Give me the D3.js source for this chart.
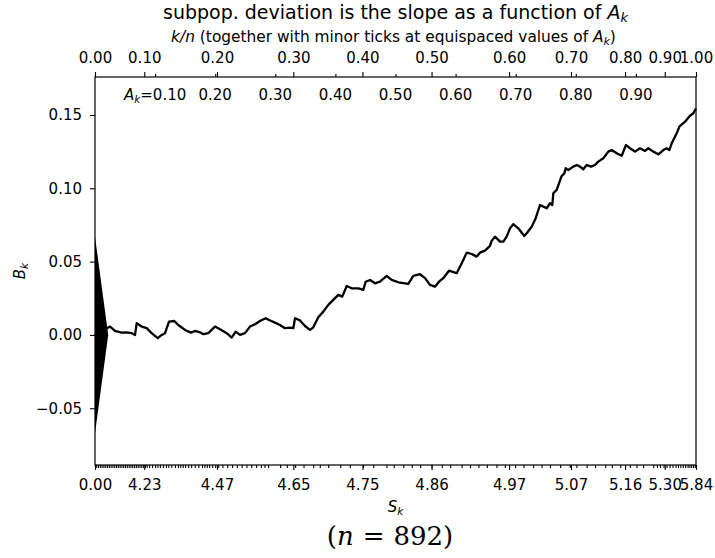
<!DOCTYPE html>
<html>
<head>
<meta charset="utf-8">
<script src="https://cdn.jsdelivr.net/npm/d3@7"></script>
<style>
  body { margin: 0; background: #fff; }
  text { font-family: "DejaVu Sans", sans-serif; }
</style>
</head>
<body>
<div id="main"></div>
<script>
/*********************************************************
 * Data
 *********************************************************/
// cumulative weight A_k (horizontal) and B_k (vertical)
const curveA = [0, 0.025, 0.0333, 0.0444, 0.0527, 0.0611, 0.0666, 0.0694, 0.0777, 0.086, 0.0943,
  0.1043, 0.111, 0.1165, 0.1231, 0.1319, 0.1386, 0.1498, 0.1597, 0.1664, 0.1747, 0.1802, 0.1885,
  0.1997, 0.208, 0.2191, 0.2275, 0.2341, 0.2413, 0.2496, 0.2579, 0.2662, 0.2745, 0.284, 0.2895,
  0.2995, 0.3078, 0.3161, 0.3245, 0.33, 0.3328, 0.3411, 0.3494, 0.3577, 0.3632, 0.3716, 0.3799,
  0.3882, 0.3965, 0.4048, 0.4115, 0.4188, 0.4271, 0.4381, 0.4464, 0.4504, 0.4576, 0.4659, 0.4742,
  0.4854, 0.4937, 0.5047, 0.5158, 0.5213, 0.5296, 0.5408, 0.5491, 0.5574, 0.5657, 0.5724, 0.5795,
  0.589, 0.6018, 0.6102, 0.6185, 0.6268, 0.6351, 0.6406, 0.6489, 0.6572, 0.6601, 0.6656, 0.6739,
  0.6794, 0.685, 0.6905, 0.696, 0.7043, 0.7143, 0.7183, 0.7266, 0.7333, 0.7404, 0.7459, 0.7516,
  0.7571, 0.7609, 0.7626, 0.7682, 0.7765, 0.7809, 0.7832, 0.7875, 0.7958, 0.8015, 0.807, 0.8125,
  0.8181, 0.8253, 0.8319, 0.8374, 0.8458, 0.8541, 0.8597, 0.8681, 0.8764, 0.8835, 0.8902, 0.8985,
  0.9068, 0.9151, 0.9206, 0.9289, 0.9374, 0.9456, 0.9512, 0.9556, 0.9596, 0.9679, 0.9722, 0.9817,
  0.99, 0.9955, 1.0];
const curveB = [0, 0.0057, 0.0027, 0.0016, 0.0018, 0.0012, 0.0, 0.008, 0.0057, 0.0046, 0.0012,
  -0.0022, 0.0, 0.0012, 0.0091, 0.0095, 0.0068, 0.0034, 0.0016, 0.0027, 0.0018, 0.0005, 0.0012,
  0.0057, 0.0039, 0.0012, -0.0018, 0.0022, 0.0, 0.0012, 0.0057, 0.0073, 0.0095, 0.0114, 0.0102,
  0.0084, 0.0068, 0.0046, 0.005, 0.0046, 0.0114, 0.0099, 0.0061, 0.0034, 0.0052, 0.0121, 0.0159,
  0.0205, 0.0239, 0.0273, 0.0261, 0.0334, 0.0318, 0.0318, 0.0307, 0.0363, 0.0375, 0.0352, 0.0363,
  0.0402, 0.0375, 0.0359, 0.0352, 0.0348, 0.0402, 0.0414, 0.0387, 0.0341, 0.0329, 0.0363, 0.0387,
  0.0438, 0.0421, 0.0489, 0.0561, 0.0552, 0.0534, 0.0561, 0.0575, 0.0607, 0.0643, 0.067, 0.0636,
  0.0636, 0.067, 0.0727, 0.0755, 0.0727, 0.0675, 0.0693, 0.0738, 0.0796, 0.0886, 0.0875, 0.0864,
  0.0898, 0.0886, 0.0966, 0.0989, 0.1084, 0.1102, 0.1137, 0.1125, 0.1148, 0.1159, 0.1148, 0.113,
  0.1159, 0.1148, 0.1159, 0.1182, 0.1205, 0.125, 0.1261, 0.1239, 0.1222, 0.1295, 0.1273, 0.125,
  0.1273, 0.1255, 0.1273, 0.125, 0.1232, 0.1261, 0.1273, 0.1261, 0.1307, 0.1375, 0.142, 0.1454,
  0.1495, 0.1512, 0.1545];

// triangle at the origin (A, B vertices)
const triangleA = [0, 0.022, 0];
const triangleB = [0.067, 0, -0.067];

// upper axis: k/n major ticks, placed at their A_k
const topTickA = [0, 0.082, 0.203, 0.33, 0.445, 0.56, 0.689, 0.792, 0.882, 0.948, 1.0];
const topTickLabels = ['0.00', '0.10', '0.20', '0.30', '0.40', '0.50', '0.60', '0.70', '0.80', '0.90', '1.00'];
// equispaced A_k minor ticks and their labels
const minorA = [0.1, 0.2, 0.3, 0.4, 0.5, 0.6, 0.7, 0.8, 0.9];
const minorLabels = ['0.10', '0.20', '0.30', '0.40', '0.50', '0.60', '0.70', '0.80', '0.90'];

// lower axis: S_k labels at the same positions
const bottomTickLabels = ['0.00', '4.23', '4.47', '4.65', '4.75', '4.86', '4.97', '5.07', '5.16', '5.30', '5.84'];
// rug of minor ticks on the lower axis
const rugA = [0.002, 0.005, 0.008, 0.011, 0.014, 0.017, 0.02, 0.023, 0.026, 0.029, 0.032, 0.035,
  0.038, 0.041, 0.044, 0.047, 0.05, 0.053, 0.056, 0.059, 0.062, 0.065, 0.068, 0.071, 0.074, 0.077,
  0.08, 0.083, 0.086, 0.09, 0.095, 0.1, 0.104, 0.108, 0.113, 0.118, 0.122, 0.127, 0.133, 0.138,
  0.142, 0.146, 0.15, 0.155, 0.16, 0.166, 0.172, 0.178, 0.182, 0.186, 0.19, 0.195, 0.2, 0.205,
  0.212, 0.22, 0.228, 0.236, 0.244, 0.252, 0.26, 0.268, 0.276, 0.282, 0.288,
  0.308, 0.319, 0.333, 0.347, 0.363, 0.374, 0.388, 0.408, 0.424, 0.446, 0.463, 0.485, 0.497,
  0.513, 0.527, 0.541, 0.56, 0.577, 0.591, 0.61, 0.624, 0.638, 0.652, 0.668,
  0.682, 0.699, 0.713, 0.729, 0.743, 0.757, 0.774, 0.79, 0.801, 0.818, 0.832, 0.849, 0.86, 0.874,
  0.89, 0.901, 0.912, 0.929, 0.935, 0.94, 0.946, 0.951, 0.956, 0.961, 0.966, 0.97, 0.974, 0.978,
  0.982, 0.986, 0.989, 0.992, 0.995, 0.998];

const sampleSize = 892;

/*********************************************************
 * Layout
 *********************************************************/
const svgWidth = 715;
const svgHeight = 558;
const margin = { t: 77, r: 19, b: 93, l: 95 };
const plotW = svgWidth - margin.l - margin.r;
const plotH = svgHeight - margin.t - margin.b;
const tickFont = '15px';

const svg = d3.select('#main')
  .append('svg')
  .attr('width', svgWidth)
  .attr('height', svgHeight);

const x = d3.scaleLinear().domain([0, 1]).range([margin.l, margin.l + plotW]);
const y = d3.scaleLinear().domain([-0.0887, 0.1759]).range([margin.t + plotH, margin.t]);

/*********************************************************
 * Marks
 *********************************************************/
const tri = triangleA.map((a, i) => [x(a), y(triangleB[i])]);
svg.append('path')
  .attr('d', 'M' + tri.join('L') + 'Z')
  .attr('fill', '#000');

const line = d3.line()
  .x(d => x(d[0]))
  .y(d => y(d[1]));

svg.append('path')
  .datum(curveA.map((a, i) => [a, curveB[i]]))
  .attr('d', line)
  .attr('fill', 'none')
  .attr('stroke', '#000')
  .attr('stroke-width', 2.3)
  .attr('stroke-linejoin', 'round');

/*********************************************************
 * Axes
 *********************************************************/
function styleAxis(g) {
  g.selectAll('.domain').remove();
  g.selectAll('line').attr('stroke', '#000').attr('stroke-width', 1.1);
  g.selectAll('text')
    .attr('fill', '#000')
    .style('font-family', '"DejaVu Sans", sans-serif')
    .style('font-size', tickFont);
}

// upper axis
svg.append('g')
  .attr('transform', `translate(0,${margin.t})`)
  .call(d3.axisTop(x).tickValues(minorA).tickSize(3).tickFormat(''))
  .call(styleAxis);
svg.append('g')
  .attr('transform', `translate(0,${margin.t})`)
  .call(d3.axisTop(x).tickValues(topTickA).tickSize(5).tickPadding(9)
    .tickFormat((d, i) => topTickLabels[i]))
  .call(styleAxis);

// lower axis
svg.append('g')
  .attr('transform', `translate(0,${margin.t + plotH})`)
  .call(d3.axisBottom(x).tickValues(rugA).tickSize(3).tickFormat(''))
  .call(styleAxis);
svg.append('g')
  .attr('transform', `translate(0,${margin.t + plotH})`)
  .call(d3.axisBottom(x).tickValues(topTickA).tickSize(5).tickPadding(9)
    .tickFormat((d, i) => bottomTickLabels[i]))
  .call(styleAxis);

// left axis
svg.append('g')
  .attr('transform', `translate(${margin.l},0)`)
  .call(d3.axisLeft(y).tickValues([-0.05, 0, 0.05, 0.1, 0.15]).tickSize(5).tickPadding(8)
    .tickFormat(d => d3.format('.2f')(d).replace('-', '\u2212')))
  .call(styleAxis);

// frame
svg.append('rect')
  .attr('x', margin.l)
  .attr('y', margin.t)
  .attr('width', plotW)
  .attr('height', plotH)
  .attr('fill', 'none')
  .attr('stroke', '#000')
  .attr('stroke-width', 1.2);

// equispaced A_k labels inside the frame
const inner = svg.append('g').style('font-size', tickFont);
minorLabels.forEach((lab, i) => {
  const t = inner.append('text')
    .attr('x', x(minorA[i]))
    .attr('y', margin.t + 23)
    .attr('text-anchor', 'middle');
  if (i === 0) {
    t.append('tspan').style('font-style', 'italic').text('A');
    t.append('tspan').style('font-style', 'italic').style('font-size', '10.5px').attr('dy', 3).text('k');
    t.append('tspan').attr('dy', -3).text('=' + lab);
  } else {
    t.text(lab);
  }
});

/*********************************************************
 * Titles and labels
 *********************************************************/
const cx = margin.l + plotW / 2;

const title = svg.append('text')
  .attr('x', cx)
  .attr('y', 18.5)
  .attr('text-anchor', 'middle')
  .style('font-size', '19px');
title.append('tspan').text('subpop. deviation is the slope as a function of ');
title.append('tspan').style('font-style', 'italic').text('A');
title.append('tspan').style('font-style', 'italic').style('font-size', '13px').attr('dy', 3).text('k');

const sub = svg.append('text')
  .attr('x', cx - 2)
  .attr('y', 41.5)
  .attr('text-anchor', 'middle')
  .style('font-size', '15.4px');
sub.append('tspan').style('font-style', 'italic').text('k/n');
sub.append('tspan').text(' (together with minor ticks at equispaced values of ');
sub.append('tspan').style('font-style', 'italic').text('A');
sub.append('tspan').style('font-style', 'italic').style('font-size', '11px').attr('dy', 3).text('k');
sub.append('tspan').attr('dy', -3).text(')');

const xl = svg.append('text')
  .attr('x', cx)
  .attr('y', 512)
  .attr('text-anchor', 'middle')
  .style('font-size', tickFont);
xl.append('tspan').style('font-style', 'italic').text('S');
xl.append('tspan').style('font-style', 'italic').style('font-size', '10.5px').attr('dy', 3).text('k');

const yl = svg.append('text')
  .attr('transform', `translate(25,${margin.t + plotH / 2}) rotate(-90)`)
  .attr('text-anchor', 'middle')
  .style('font-size', tickFont);
yl.append('tspan').style('font-style', 'italic').text('B');
yl.append('tspan').style('font-style', 'italic').style('font-size', '10.5px').attr('dy', 3).text('k');

const nl = svg.append('text')
  .attr('x', 390)
  .attr('y', 545)
  .attr('text-anchor', 'middle')
  .style('font-family', '"DejaVu Serif", "Liberation Serif", serif')
  .style('font-size', '26px');
nl.append('tspan').text('(');
nl.append('tspan').style('font-style', 'italic').text('n');
nl.append('tspan').attr('dx', 9).text('=');
nl.append('tspan').attr('dx', 9).text(sampleSize + ')');
</script>
</body>
</html>
